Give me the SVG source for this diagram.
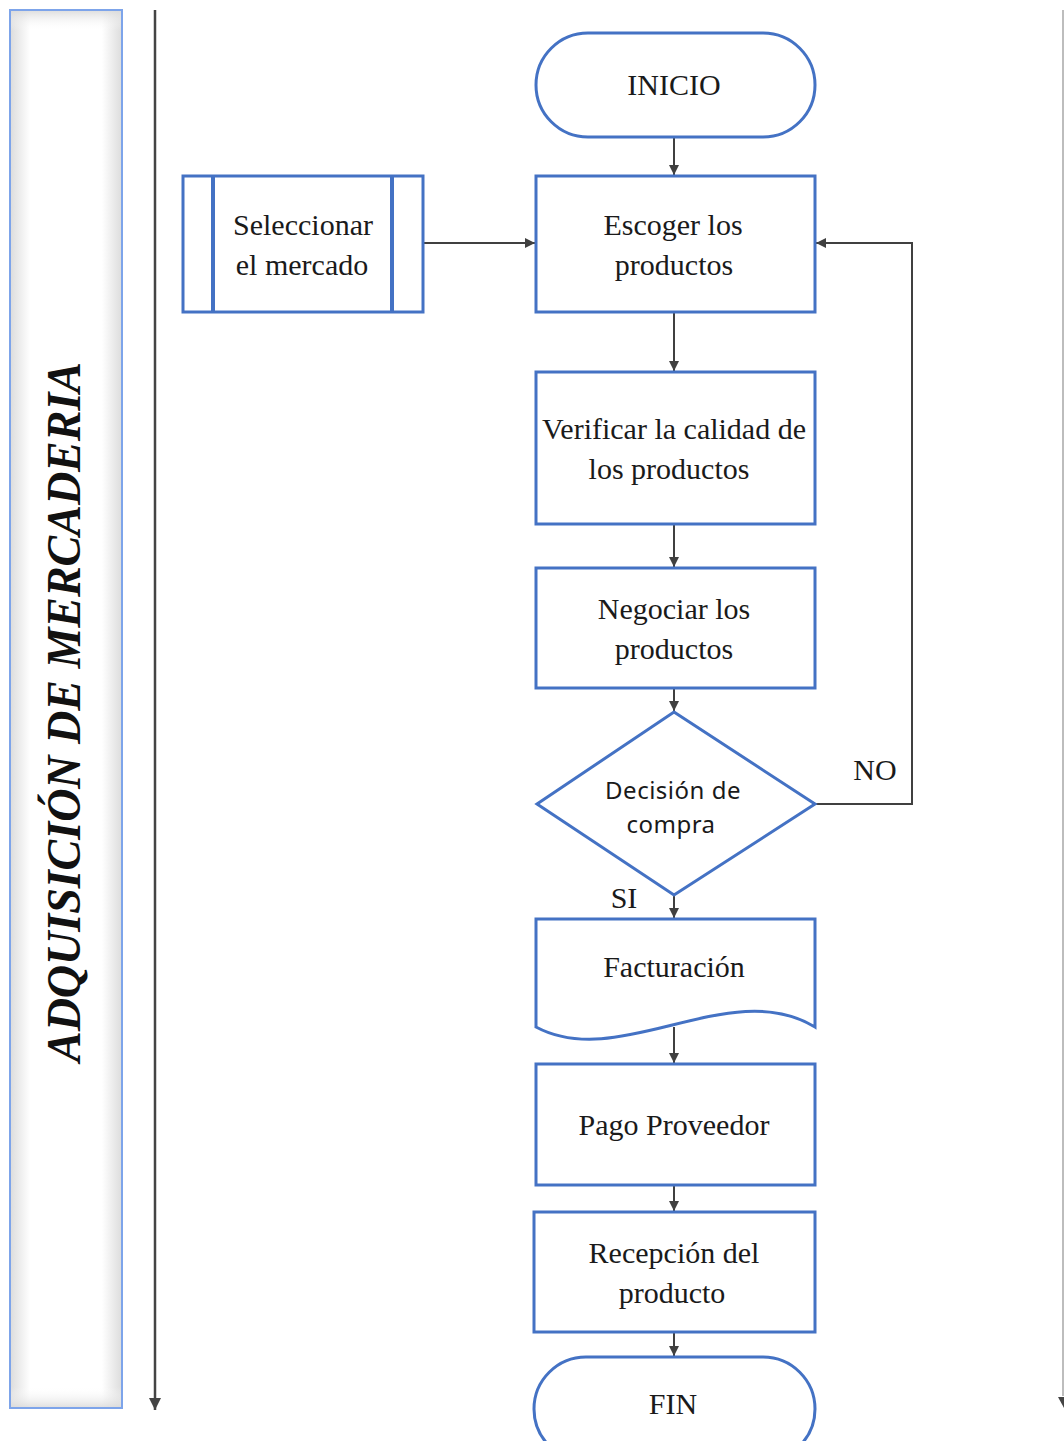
<svg xmlns="http://www.w3.org/2000/svg" width="1064" height="1441" viewBox="0 0 1064 1441">
  <style>
    .node { fill: #ffffff; stroke: #4472C4; stroke-width: 3; }
    .lbl { font-family: "Liberation Serif", "Times New Roman", serif; font-size: 30px; fill: #1a1a1a; text-anchor: middle; }
    .sans { font-family: "Noto Sans", "Open Sans", sans-serif; font-size: 24px; fill: #1a1a1a; text-anchor: middle; letter-spacing: 0.5px; }
    .edge { fill: none; stroke: #404040; stroke-width: 2; }
    .lane { fill: none; stroke: #444444; stroke-width: 2.5; }
  </style>
  <defs>
    <marker id="arrow" markerWidth="12" markerHeight="12" refX="10" refY="6" orient="auto" markerUnits="userSpaceOnUse">
      <path d="M0,1 L10,6 L0,11 Z" fill="#404040"/>
    </marker>
    <marker id="laneArrow" markerWidth="14" markerHeight="14" refX="12" refY="7" orient="auto" markerUnits="userSpaceOnUse">
      <path d="M0,1 L12,7 L0,13 Z" fill="#444444"/>
    </marker>
    <linearGradient id="shadeH" x1="0" y1="0" x2="1" y2="0">
      <stop offset="0" stop-color="#dcdcdc"/>
      <stop offset="0.18" stop-color="#ffffff"/>
      <stop offset="0.82" stop-color="#ffffff"/>
      <stop offset="1" stop-color="#dcdcdc"/>
    </linearGradient>
    <linearGradient id="shadeV" x1="0" y1="0" x2="0" y2="1">
      <stop offset="0" stop-color="#d9d9d9" stop-opacity="0.9"/>
      <stop offset="0.015" stop-color="#ffffff" stop-opacity="0"/>
      <stop offset="0.985" stop-color="#ffffff" stop-opacity="0"/>
      <stop offset="1" stop-color="#d9d9d9" stop-opacity="0.9"/>
    </linearGradient>
  </defs>

  <rect width="1064" height="1441" fill="#ffffff"/>

  <!-- swimlane header -->
  <g id="lane-header">
    <rect x="10" y="10" width="112" height="1398" fill="url(#shadeH)"/>
    <rect x="10" y="10" width="112" height="1398" fill="url(#shadeV)"/>
    <rect x="10" y="10" width="112" height="1398" fill="none" stroke="#7da4ea" stroke-width="2"/>
    <text transform="translate(80,712) rotate(-90)" text-anchor="middle" font-family="Liberation Serif, Times New Roman, serif" font-size="48" font-weight="bold" font-style="italic" fill="#111111" textLength="700" lengthAdjust="spacingAndGlyphs">ADQUISICIÓN DE MERCADERIA</text>
  </g>

  <!-- lane separators -->
  <g id="lane-lines">
    <line class="lane" x1="155" y1="10" x2="155" y2="1410" marker-end="url(#laneArrow)"/>
    <line x1="1063" y1="10" x2="1063" y2="1396" stroke="#bdbdbd" stroke-width="2"/>
    <path d="M1058,1397 L1064,1397 L1064,1408 Z" fill="#444444"/>
  </g>

  <!-- connectors -->
  <g id="connectors">
    <line class="edge" x1="674" y1="137" x2="674" y2="175" marker-end="url(#arrow)"/>
    <line class="edge" x1="423" y1="243" x2="535" y2="243" marker-end="url(#arrow)"/>
    <line class="edge" x1="674" y1="312" x2="674" y2="371" marker-end="url(#arrow)"/>
    <line class="edge" x1="674" y1="524" x2="674" y2="567" marker-end="url(#arrow)"/>
    <line class="edge" x1="674" y1="688" x2="674" y2="711" marker-end="url(#arrow)"/>
    <polyline class="edge" points="815,804 912,804 912,243 816,243" marker-end="url(#arrow)"/>
    <line class="edge" x1="674" y1="895" x2="674" y2="918" marker-end="url(#arrow)"/>
    <line class="edge" x1="674" y1="1027" x2="674" y2="1063" marker-end="url(#arrow)"/>
    <line class="edge" x1="674" y1="1185" x2="674" y2="1211" marker-end="url(#arrow)"/>
    <line class="edge" x1="674" y1="1332" x2="674" y2="1356" marker-end="url(#arrow)"/>
    <text class="lbl" x="875" y="780" font-size="31">NO</text>
    <text class="lbl" x="624" y="908" font-size="31">SI</text>
  </g>

  <!-- nodes -->
  <g id="inicio">
    <rect class="node" x="536" y="33" width="279" height="104" rx="52" ry="52"/>
    <text class="lbl" x="674" y="95">INICIO</text>
  </g>

  <g id="seleccionar">
    <rect class="node" x="183" y="176" width="240" height="136"/>
    <line x1="213" y1="176" x2="213" y2="312" stroke="#4472C4" stroke-width="4"/>
    <line x1="392" y1="176" x2="392" y2="312" stroke="#4472C4" stroke-width="4"/>
    <text class="lbl" x="303" y="235">Seleccionar</text>
    <text class="lbl" x="302" y="275">el mercado</text>
  </g>

  <g id="escoger">
    <rect class="node" x="536" y="176" width="279" height="136"/>
    <text class="lbl" x="673" y="235">Escoger los</text>
    <text class="lbl" x="674" y="275">productos</text>
  </g>

  <g id="verificar">
    <rect class="node" x="536" y="372" width="279" height="152"/>
    <text class="lbl" x="674" y="439">Verificar la calidad de</text>
    <text class="lbl" x="669" y="479">los productos</text>
  </g>

  <g id="negociar">
    <rect class="node" x="536" y="568" width="279" height="120"/>
    <text class="lbl" x="674" y="619">Negociar los</text>
    <text class="lbl" x="674" y="659">productos</text>
  </g>

  <g id="decision">
    <polygon class="node" points="674,712 815,804 674,895 537,804"/>
    <text class="sans" x="673" y="799">Decisión de</text>
    <text class="sans" x="671" y="833">compra</text>
  </g>

  <g id="facturacion">
    <path class="node" d="M536,919 L815,919 L815,1027 C730,975 620,1072 536,1027 Z"/>
    <text class="lbl" x="674" y="977">Facturación</text>
  </g>

  <g id="pago">
    <rect class="node" x="536" y="1064" width="279" height="121"/>
    <text class="lbl" x="674" y="1135">Pago Proveedor</text>
  </g>

  <g id="recepcion">
    <rect class="node" x="534" y="1212" width="281" height="120"/>
    <text class="lbl" x="674" y="1263">Recepción del</text>
    <text class="lbl" x="672" y="1303">producto</text>
  </g>

  <g id="fin">
    <rect class="node" x="534" y="1357" width="281" height="104" rx="52" ry="52"/>
    <text class="lbl" x="673" y="1414">FIN</text>
  </g>
</svg>
